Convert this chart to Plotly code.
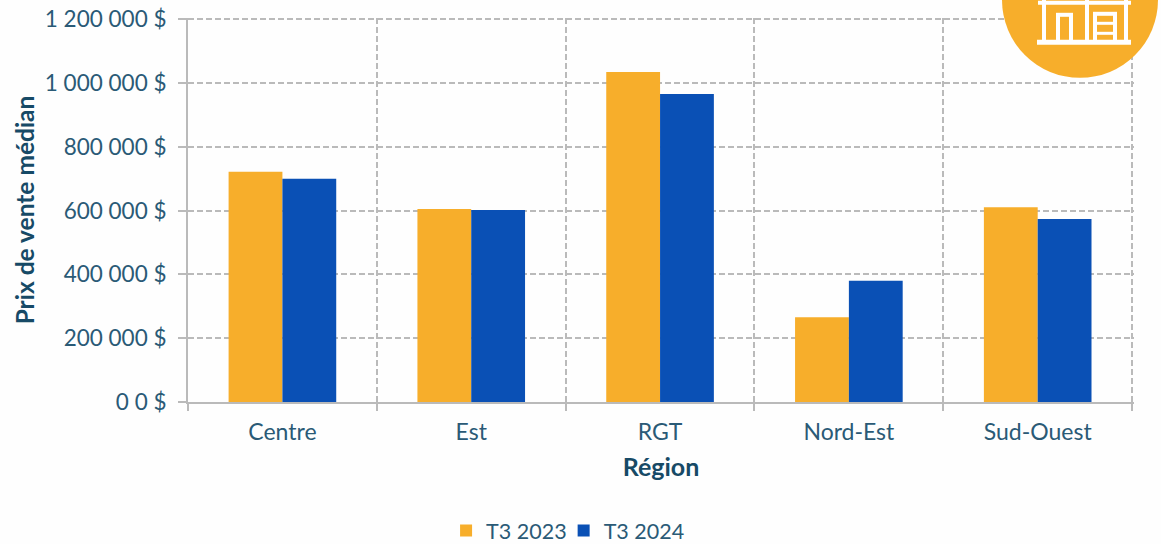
import plotly.graph_objects as go

regions = ["Centre", "Est", "RGT", "Nord-Est", "Sud-Ouest"]
t3_2023 = [722000, 605000, 1035000, 266000, 611000]
t3_2024 = [700000, 602000, 966000, 380000, 574000]
y_ticks = [0, 200000, 400000, 600000, 800000, 1000000, 1200000]
y_labels = ["0 0 $", "200 000 $", "400 000 $", "600 000 $", "800 000 $", "1 000 000 $", "1 200 000 $"]

W, H = 1161, 544
ML, MR, MT, MB = 188, 27, 18.2, 142
ORANGE = "#f7ae2b"
BLUE = "#0a50b5"
TXT = "#2a5a76"
TITRE = "#174a66"
GRID = "#bababa"
FONT = "Lato"


def px(x):
    return (x - ML) / (W - ML - MR)


def py(y):
    return 1 - (y - MT) / (H - MT - MB)


def rect(x0, y0, x1, y1, color="white"):
    return dict(type="rect", xref="paper", yref="paper", layer="above",
                x0=px(x0), y0=py(y0), x1=px(x1), y1=py(y1),
                fillcolor=color, line_width=0)


fig = go.Figure()
fig.add_trace(go.Bar(x=regions, y=t3_2023, name="T3 2023", marker_color=ORANGE, marker_line_width=0))
fig.add_trace(go.Bar(x=regions, y=t3_2024, name="T3 2024", marker_color=BLUE, marker_line_width=0))

# pastille en haut a droite
shapes = [dict(type="circle", xref="paper", yref="paper", layer="above",
               x0=px(1002), y0=py(78), x1=px(1158), y1=py(-78),
               fillcolor=ORANGE, line_width=0)]
# petit batiment blanc
shapes += [
    rect(1038, 1, 1131, 5), rect(1037, 40, 1131, 45),
    rect(1042, 0, 1046, 42), rect(1124, 0, 1128, 42), rect(1085, 0, 1089, 42),
    rect(1056, 15, 1060, 42), rect(1069, 15, 1073, 42), rect(1056, 13, 1073, 17),
    rect(1093, 13, 1097, 42), rect(1113, 13, 1117, 42), rect(1093, 12, 1117, 16),
    rect(1095, 22, 1115, 25), rect(1095, 32, 1115, 35),
]

fig.update_layout(
    width=W, height=H, autosize=False,
    margin=dict(l=ML, r=MR, t=MT, b=MB, pad=0, autoexpand=False),
    paper_bgcolor="#fefefe", plot_bgcolor="#fefefe",
    font=dict(family=FONT, color=TXT, size=20),
    barmode="group", bargap=0.43, bargroupgap=0,
    shapes=shapes,
    legend=dict(orientation="h", x=0.406, xanchor="center", y=-0.335, yanchor="middle",
                font=dict(size=21.5, color=TXT), traceorder="normal", indentation=-8),
    showlegend=True,
)
fig.update_xaxes(
    type="category", range=[-0.5, 4.51], tickson="boundaries", ticks="outside", ticklen=7, tickcolor=GRID, tickwidth=2,
    showgrid=True, gridcolor=GRID, griddash="6px,3px", gridwidth=1.5,
    showline=True, linecolor=GRID, linewidth=2, automargin=False,
    tickfont=dict(size=23, color=TXT), ticklabelstandoff=8,
    title=dict(text="<b>Région</b>", font=dict(size=25, color=TITRE), standoff=15),
)
fig.update_yaxes(
    range=[0, 1204000], tickmode="array", tickvals=y_ticks, ticktext=y_labels,
    ticks="outside", ticklen=8, tickcolor=GRID, tickwidth=2,
    showgrid=True, gridcolor=GRID, griddash="6px,3px", gridwidth=1.5, zeroline=False,
    showline=True, linecolor=GRID, linewidth=2, automargin=False,
    tickfont=dict(size=22.5, color=TXT), ticklabelstandoff=7,
    title=dict(text="<b>Prix de vente médian</b>", font=dict(size=24.5, color=TITRE), standoff=3),
)

fig.write_html("out.html", config={"displayModeBar": False},
               post_script="document.body.style.margin='0';")
